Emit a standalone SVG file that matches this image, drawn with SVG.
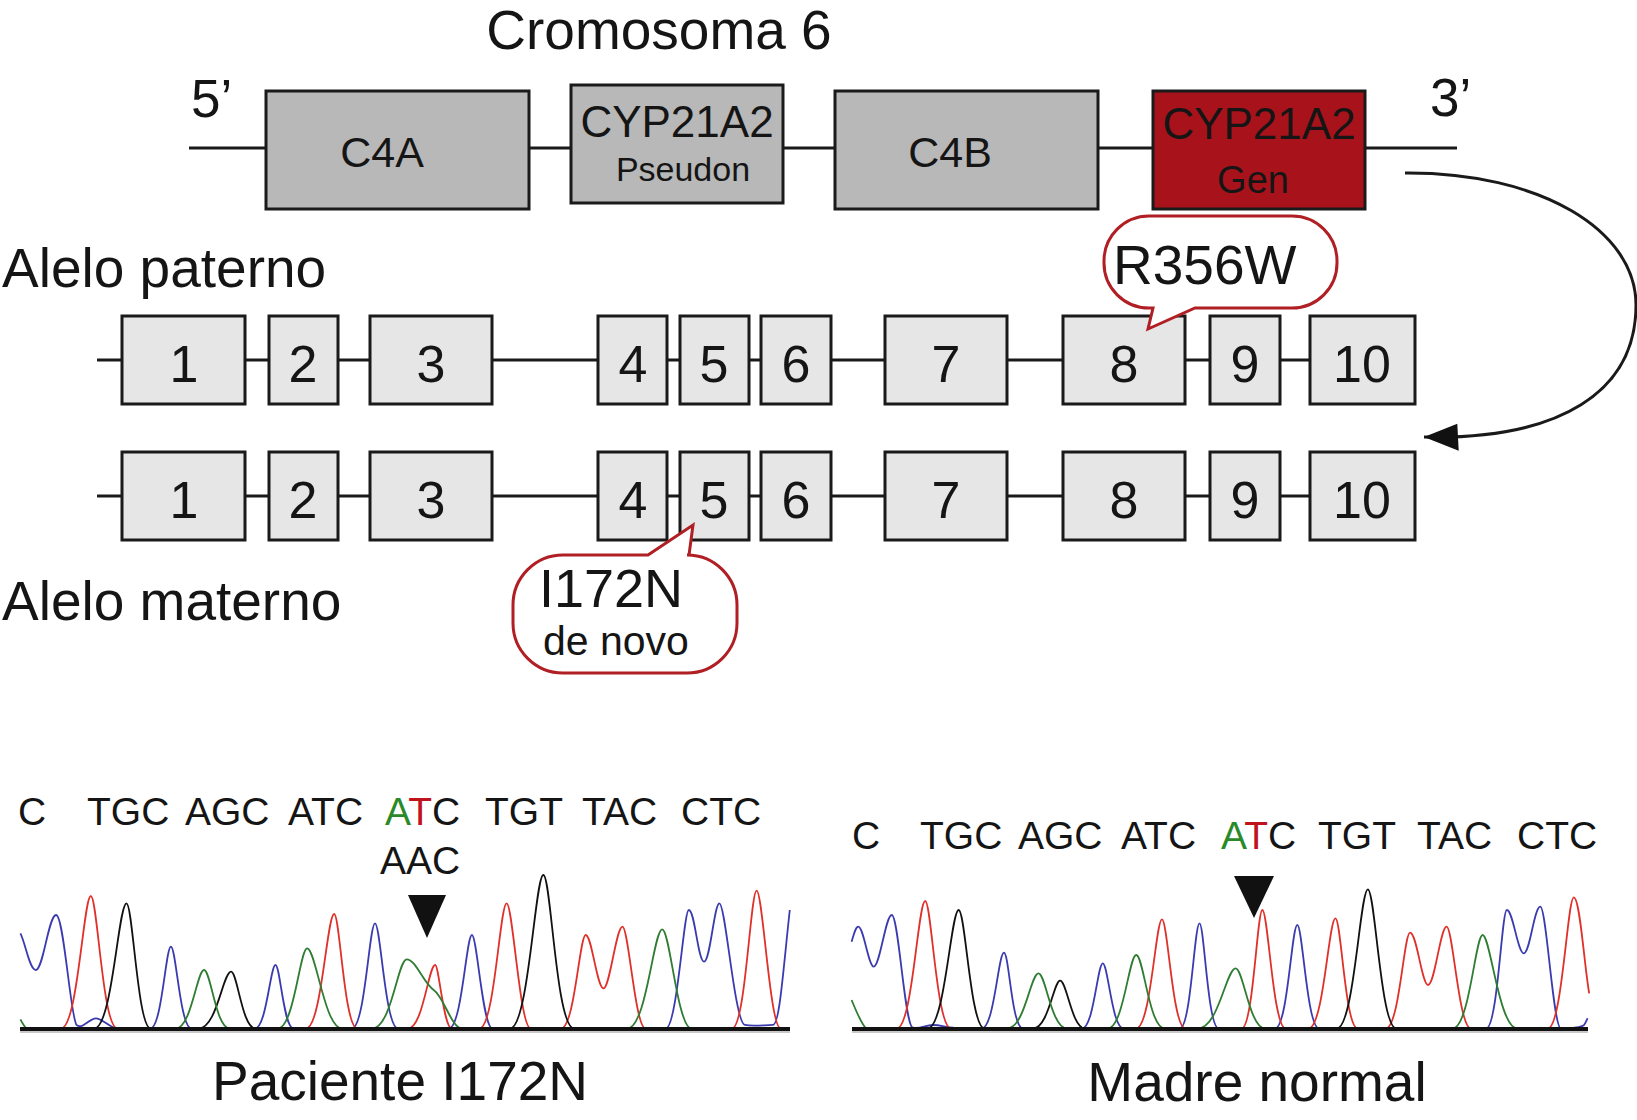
<svg xmlns="http://www.w3.org/2000/svg" width="1637" height="1120" viewBox="0 0 1637 1120">
<style>
text{font-family:"Liberation Sans",Arial,sans-serif;fill:#151515}
.chr{fill:#b8b8b8;stroke:#1a1a1a;stroke-width:3}
.gen{fill:#a8131b;stroke:#1a1a1a;stroke-width:3}
.ex{fill:#e6e6e6;stroke:#1a1a1a;stroke-width:3}
.ln{stroke:#1a1a1a;stroke-width:3;fill:none}
.num{font-size:52px;text-anchor:middle}
.call{fill:#fff;stroke:#b01f24;stroke-width:3}
.seq{font-size:39px}
.tr{fill:none;stroke-width:1.8;vector-effect:non-scaling-stroke}
.b{stroke:#3b3bb0}.r{stroke:#e0302a}.k{stroke:#111}.g{stroke:#2e7d32}
.ax{stroke:#111;stroke-width:4}
.axs{stroke:#c8c8c8;stroke-width:2}
.big{font-size:55px}
</style>
<defs>
<marker id="ah" markerUnits="userSpaceOnUse" viewBox="-36 -15 37 30" markerWidth="37" markerHeight="30" refX="0" refY="0" orient="auto">
<path d="M0,0 L-35,-13 L-33,14 Z" fill="#111"/>
</marker>
</defs>
<rect width="1637" height="1120" fill="#fff"/>

<text x="659" y="49" font-size="55" text-anchor="middle">Cromosoma 6</text>
<text x="191" y="117" font-size="53">5’</text>
<text x="1430" y="116" font-size="53">3’</text>
<text x="2" y="287" class="big">Alelo paterno</text>
<text x="2" y="620" class="big">Alelo materno</text>

<g id="connectors">
<line class="ln" x1="189" y1="148" x2="1457" y2="148"/>
<line class="ln" x1="97" y1="360" x2="1310" y2="360"/>
<line class="ln" x1="97" y1="496" x2="1310" y2="496"/>
<path class="ln" d="M1405,173 C1540,172 1636,230 1636,305 C1636,392 1560,440 1424,437" marker-end="url(#ah)"/>
</g>

<g id="C4A"><rect class="chr" x="266" y="91" width="263" height="118"/><text x="382" y="167" font-size="43" text-anchor="middle">C4A</text></g>
<g id="CYP21A2-pseudo"><rect class="chr" x="571" y="85" width="212" height="118"/><text x="677" y="137" font-size="44" text-anchor="middle">CYP21A2</text><text x="683" y="181" font-size="34" text-anchor="middle">Pseudon</text></g>
<g id="C4B"><rect class="chr" x="835" y="91" width="263" height="118"/><text x="950" y="167" font-size="43" text-anchor="middle">C4B</text></g>
<g id="CYP21A2-gen"><rect class="gen" x="1153" y="91" width="212" height="118"/><text x="1259" y="139" font-size="44" text-anchor="middle">CYP21A2</text><text x="1253" y="193" font-size="38" text-anchor="middle">Gen</text></g>

<g id="paterno">
<g id="p1"><rect class="ex" x="122" y="316" width="123" height="88"/><text class="num" x="184" y="382">1</text></g>
<g id="p2"><rect class="ex" x="269" y="316" width="69" height="88"/><text class="num" x="303" y="382">2</text></g>
<g id="p3"><rect class="ex" x="370" y="316" width="122" height="88"/><text class="num" x="431" y="382">3</text></g>
<g id="p4"><rect class="ex" x="598" y="316" width="69" height="88"/><text class="num" x="633" y="382">4</text></g>
<g id="p5"><rect class="ex" x="680" y="316" width="69" height="88"/><text class="num" x="714" y="382">5</text></g>
<g id="p6"><rect class="ex" x="761" y="316" width="70" height="88"/><text class="num" x="796" y="382">6</text></g>
<g id="p7"><rect class="ex" x="885" y="316" width="122" height="88"/><text class="num" x="946" y="382">7</text></g>
<g id="p8"><rect class="ex" x="1063" y="316" width="122" height="88"/><text class="num" x="1124" y="382">8</text></g>
<g id="p9"><rect class="ex" x="1210" y="316" width="70" height="88"/><text class="num" x="1245" y="382">9</text></g>
<g id="p10"><rect class="ex" x="1310" y="316" width="105" height="88"/><text class="num" x="1362" y="382">10</text></g>
</g>
<g id="materno">
<g id="m1"><rect class="ex" x="122" y="452" width="123" height="88"/><text class="num" x="184" y="518">1</text></g>
<g id="m2"><rect class="ex" x="269" y="452" width="69" height="88"/><text class="num" x="303" y="518">2</text></g>
<g id="m3"><rect class="ex" x="370" y="452" width="122" height="88"/><text class="num" x="431" y="518">3</text></g>
<g id="m4"><rect class="ex" x="598" y="452" width="69" height="88"/><text class="num" x="633" y="518">4</text></g>
<g id="m5"><rect class="ex" x="680" y="452" width="69" height="88"/><text class="num" x="714" y="518">5</text></g>
<g id="m6"><rect class="ex" x="761" y="452" width="70" height="88"/><text class="num" x="796" y="518">6</text></g>
<g id="m7"><rect class="ex" x="885" y="452" width="122" height="88"/><text class="num" x="946" y="518">7</text></g>
<g id="m8"><rect class="ex" x="1063" y="452" width="122" height="88"/><text class="num" x="1124" y="518">8</text></g>
<g id="m9"><rect class="ex" x="1210" y="452" width="70" height="88"/><text class="num" x="1245" y="518">9</text></g>
<g id="m10"><rect class="ex" x="1310" y="452" width="105" height="88"/><text class="num" x="1362" y="518">10</text></g>
</g>

<g id="callout-R356W">
<path class="call" d="M1149,216 H1292 A45,45 0 0 1 1337,261 V263 A45,45 0 0 1 1292,308 H1195 L1148,329 L1153,308 H1149 A45,45 0 0 1 1104,263 V261 A45,45 0 0 1 1149,216 Z"/>
<text x="1113" y="284" font-size="55">R356W</text>
</g>
<g id="callout-I172N">
<path class="call" d="M563,555 H648 L693,525 L689,555 H687 A50,50 0 0 1 737,605 V623 A50,50 0 0 1 687,673 H563 A50,50 0 0 1 513,623 V605 A50,50 0 0 1 563,555 Z"/>
<text x="539" y="607" font-size="54">I172N</text>
<text x="543" y="655" font-size="41">de novo</text>
</g>

<g id="chromatogram-paciente">
<text class="seq" y="825"><tspan x="18">C</tspan><tspan x="87">TGC</tspan><tspan x="185">AGC</tspan><tspan x="288">ATC</tspan><tspan x="385" fill="#2a8a2a">A</tspan><tspan fill="#c0141c">T</tspan><tspan>C</tspan><tspan x="485">TGT</tspan><tspan x="582">TAC</tspan><tspan x="681">CTC</tspan></text>
<text class="seq" x="380" y="874">AAC</text>
<path d="M408,895 L446,895 L427,938 Z" fill="#111"/>
<g transform="translate(0,770) scale(0.5102,0.3333)">
<path class="tr b" d="M40,490 C50,520 58,600 70,600 C85,600 95,435 110,435 C125,435 138,740 150,765 C162,780 175,745 188,745 C198,745 205,760 225,775"/>
<path class="tr b" d="M295,775 C317,775 325,530 335,530 C345,530 353,775 375,775"/>
<path class="tr b" d="M500,775 C522,775 530,585 540,585 C549,585 556,775 575,775"/>
<path class="tr b" d="M690,775 C715,775 724,460 735,460 C746,460 755,775 780,775"/>
<path class="tr b" d="M880,775 C905,775 914,495 925,495 C935,495 946,775 965,775"/>
<path class="tr b" d="M1305,775 C1327,775 1340,420 1350,420 C1362,420 1368,575 1380,575 C1392,575 1400,400 1410,400 C1422,400 1440,760 1460,765 C1475,770 1500,765 1515,765 C1528,765 1535,600 1548,420"/>
<path class="tr r" d="M120,775 C152,775 164,378 178,378 C191,378 201,775 230,775"/>
<path class="tr r" d="M600,775 C630,775 641,432 655,432 C666,432 675,775 700,775"/>
<path class="tr r" d="M800,775 C829,775 840,585 853,585 C860,585 870,775 885,775"/>
<path class="tr r" d="M940,775 C969,775 980,400 993,400 C1005,400 1019,775 1040,775"/>
<path class="tr r" d="M1100,775 C1126,775 1136,495 1148,495 C1160,495 1170,655 1183,655 C1195,655 1208,470 1220,470 C1232,470 1245,775 1265,775"/>
<path class="tr r" d="M1435,775 C1461,775 1471,362 1483,362 C1495,362 1509,775 1530,775"/>
<path class="tr k" d="M185,775 C220,775 232,400 248,400 C260,400 270,775 295,775"/>
<path class="tr k" d="M390,775 C425,775 437,605 453,605 C465,605 475,775 500,775"/>
<path class="tr k" d="M1000,775 C1036,775 1049,315 1065,315 C1080,315 1090,775 1125,775"/>
<path class="tr g" d="M40,748 C44,760 48,770 52,775"/>
<path class="tr g" d="M345,775 C375,775 386,600 400,600 C413,600 423,775 450,775"/>
<path class="tr g" d="M545,775 C576,775 588,535 602,535 C619,535 636,775 670,775"/>
<path class="tr g" d="M730,775 C767,775 780,568 797,568 C815,568 830,640 850,660 C870,680 885,775 905,775"/>
<path class="tr g" d="M1230,775 C1267,775 1281,478 1298,478 C1313,478 1328,775 1355,775"/>
</g>
<line class="axs" x1="20" y1="1032" x2="790" y2="1032"/>
<line class="ax" x1="20" y1="1029" x2="790" y2="1029"/>
<text class="big" x="400" y="1100" text-anchor="middle">Paciente I172N</text>
</g>

<g id="chromatogram-madre">
<text class="seq" y="849"><tspan x="852">C</tspan><tspan x="920">TGC</tspan><tspan x="1018">AGC</tspan><tspan x="1121">ATC</tspan><tspan x="1221" fill="#2a8a2a">A</tspan><tspan fill="#c0141c">T</tspan><tspan>C</tspan><tspan x="1318">TGT</tspan><tspan x="1417">TAC</tspan><tspan x="1517">CTC</tspan></text>
<path d="M1234,876 L1274,876 L1254,918 Z" fill="#111"/>
<g transform="translate(830,790) scale(0.5147,0.3333)">
<path class="tr b" d="M42,455 C47,430 50,410 55,410 C65,410 75,530 85,530 C97,530 108,375 120,375 C133,375 145,700 160,712 C172,720 185,705 200,705 C215,705 225,712 240,713"/>
<path class="tr b" d="M295,715 C319,715 327,488 338,488 C348,488 353,715 375,715"/>
<path class="tr b" d="M490,715 C512,715 520,520 530,520 C540,520 548,715 570,715"/>
<path class="tr b" d="M680,715 C701,715 708,400 718,400 C727,400 734,715 755,715"/>
<path class="tr b" d="M865,715 C889,715 897,405 908,405 C918,405 927,715 950,715"/>
<path class="tr b" d="M1275,715 C1297,715 1305,360 1315,360 C1327,360 1336,490 1348,490 C1360,490 1368,350 1380,350 C1392,350 1405,715 1420,715 C1440,715 1460,712 1465,705 C1468,700 1470,690 1472,685"/>
<path class="tr r" d="M130,715 C160,715 171,333 185,333 C197,333 207,715 235,715"/>
<path class="tr r" d="M595,715 C623,715 633,388 645,388 C656,388 666,715 690,715"/>
<path class="tr r" d="M800,715 C822,715 830,360 840,360 C851,360 861,715 885,715"/>
<path class="tr r" d="M930,715 C959,715 969,385 982,385 C993,385 1001,715 1025,715"/>
<path class="tr r" d="M1080,715 C1106,715 1115,428 1127,428 C1140,428 1150,585 1162,585 C1175,585 1186,410 1198,410 C1210,410 1222,715 1245,715"/>
<path class="tr r" d="M1395,715 C1422,715 1433,322 1445,322 C1457,322 1465,520 1475,610"/>
<path class="tr k" d="M190,715 C223,715 235,360 250,360 C263,360 273,715 300,715"/>
<path class="tr k" d="M395,715 C424,715 435,572 447,572 C460,572 470,715 495,715"/>
<path class="tr k" d="M985,715 C1018,715 1030,298 1045,298 C1059,298 1070,715 1100,715"/>
<path class="tr g" d="M42,630 C50,660 60,700 70,715"/>
<path class="tr g" d="M345,715 C378,715 390,550 405,550 C419,550 430,715 460,715"/>
<path class="tr g" d="M540,715 C570,715 581,495 595,495 C609,495 620,715 650,715"/>
<path class="tr g" d="M715,715 C755,715 770,535 788,535 C803,535 815,715 845,715"/>
<path class="tr g" d="M1210,715 C1242,715 1254,435 1268,435 C1283,435 1300,715 1335,715"/>
</g>
<line class="axs" x1="852" y1="1032" x2="1588" y2="1032"/>
<line class="ax" x1="852" y1="1029" x2="1588" y2="1029"/>
<text class="big" x="1257" y="1101" text-anchor="middle">Madre normal</text>
</g>
</svg>
